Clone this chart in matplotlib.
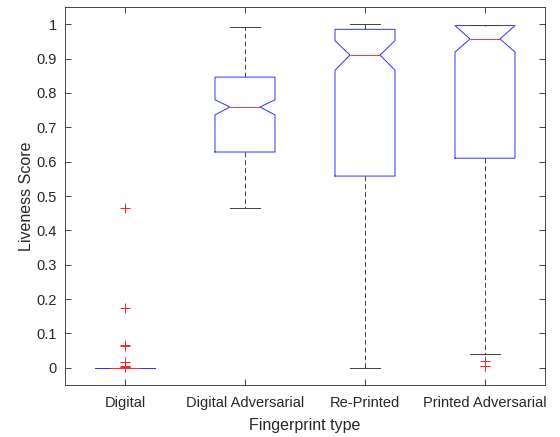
import numpy as np
import matplotlib.pyplot as plt

plt.rcParams['font.family'] = ['Liberation Sans', 'DejaVu Sans']

# boxplot summary per fingerprint type
categories = ['Digital', 'Digital Adversarial', 'Re-Printed', 'Printed Adversarial']
whislo = [0.0, 0.465, 0.0, 0.041]
q1 = [0.0, 0.628, 0.558, 0.610]
med = [0.0, 0.759, 0.910, 0.957]
q3 = [0.0, 0.846, 0.985, 0.996]
whishi = [0.0, 0.991, 1.0, 0.999]
cilo = [0.0, 0.736, 0.866, 0.919]
cihi = [0.0, 0.780, 0.952, 0.996]
fliers = [
    [0.466, 0.174, 0.066, 0.063, 0.018, 0.005, 0.003, 0.002],
    [],
    [],
    [0.021, 0.006, 0.004],
]

stats = []
for i in range(len(categories)):
    stats.append(dict(label=categories[i], whislo=whislo[i], q1=q1[i], med=med[i],
                      q3=q3[i], whishi=whishi[i], cilo=cilo[i], cihi=cihi[i],
                      fliers=np.array(fliers[i])))

fig = plt.figure(figsize=(5.6, 4.37), dpi=100)
ax = fig.add_axes([65 / 560, 1 - 385 / 437, 480 / 560, 378 / 437])

ax.bxp(stats, positions=[1, 2, 3, 4], widths=0.5, shownotches=True,
       boxprops=dict(color='#3030ff', linewidth=0.7),
       medianprops=dict(color='#ff3030', linewidth=0.7),
       whiskerprops=dict(color='0.25', linewidth=0.7, linestyle=(0, (5, 3))),
       capprops=dict(color='0.25', linewidth=0.7),
       flierprops=dict(marker='+', markeredgecolor='#ff2020', markersize=7,
                       markeredgewidth=0.7, linestyle='none'))

ax.set_xlim(0.5, 4.5)
ax.set_ylim(-0.05, 1.05)
ax.set_yticks(np.arange(0, 1.01, 0.1))
ax.set_yticklabels(['0'] + ['%.1f' % v for v in np.arange(0.1, 0.95, 0.1)] + ['1'])
ax.set_xticks([1, 2, 3, 4])
ax.set_xticklabels(categories)

ax.tick_params(direction='in', length=4, width=0.6, color='0.15',
               labelsize=10.5, labelcolor='0.15', top=True, right=True)
ax.tick_params(axis='x', pad=8)
ax.tick_params(axis='y', pad=6)
for s in ax.spines.values():
    s.set_color('0.15')
    s.set_linewidth(0.6)

ax.set_xlabel('Fingerprint type', fontsize=11.5, color='0.15', labelpad=6)
ax.set_ylabel('Liveness Score', fontsize=11.5, color='0.15', labelpad=1.5)

fig.savefig('out.png', dpi=100)
